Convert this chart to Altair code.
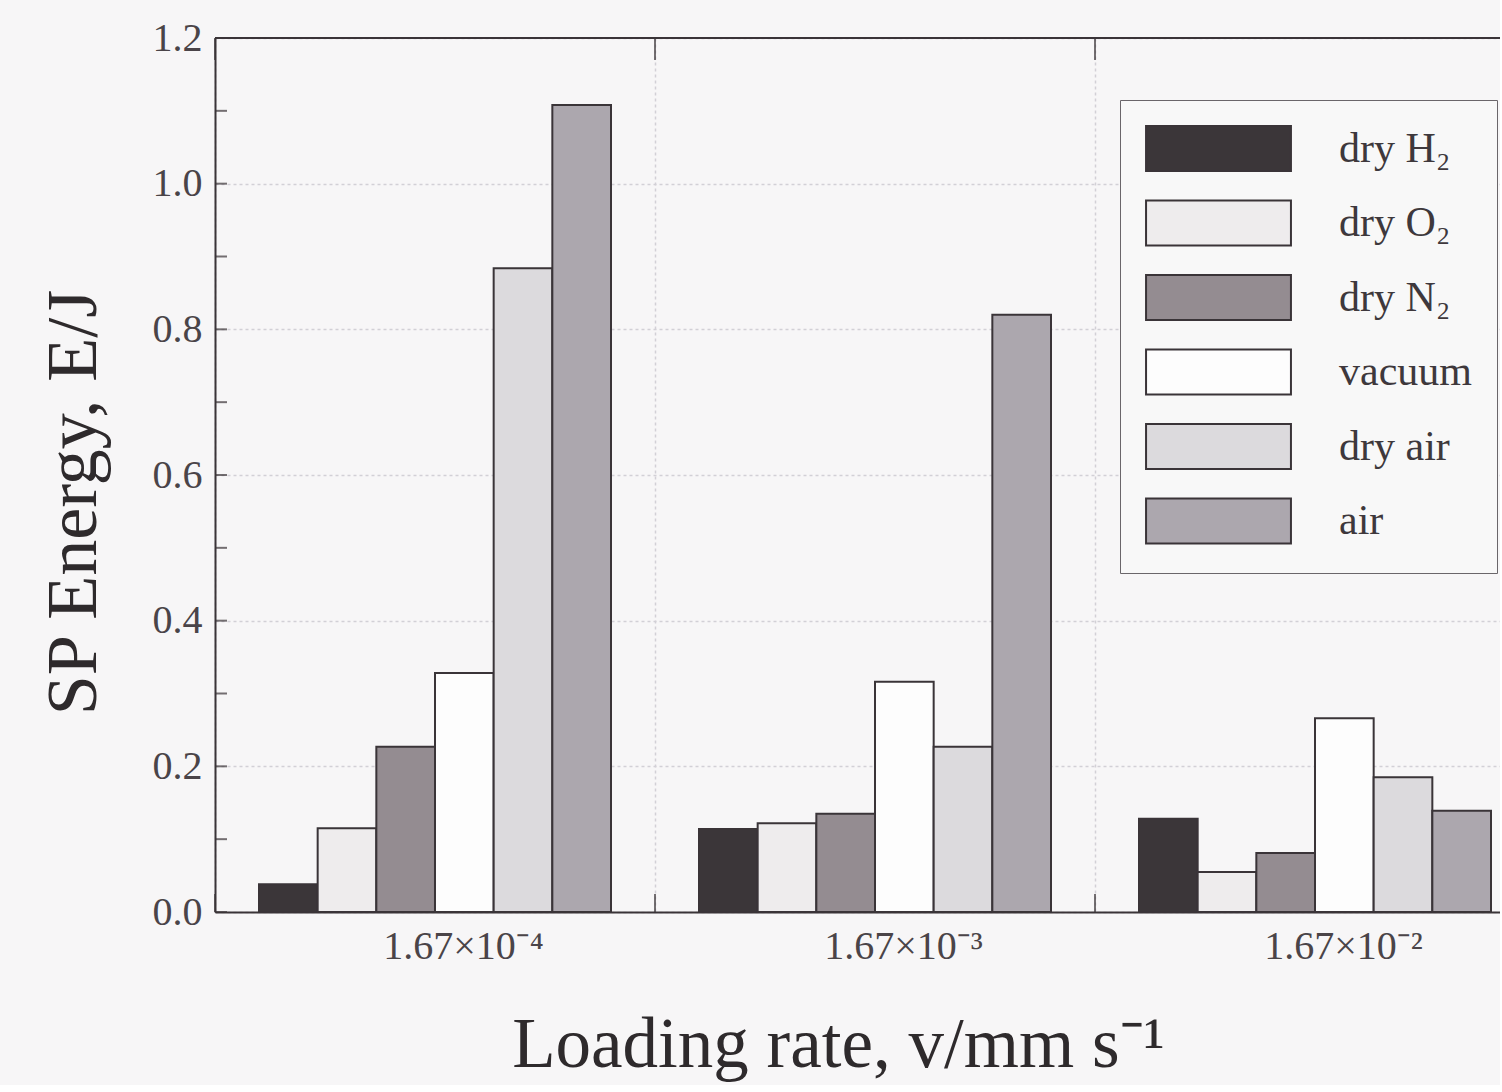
import altair as alt
import pandas as pd

# ---- data ----
rates = ["1.67×10⁻⁴", "1.67×10⁻³", "1.67×10⁻²"]
envs = ["dry H₂", "dry O₂", "dry N₂", "vacuum", "dry air", "air"]
energy_r4 = [0.038, 0.115, 0.227, 0.328, 0.884, 1.108]
energy_r3 = [0.114, 0.122, 0.135, 0.316, 0.227, 0.820]
energy_r2 = [0.128, 0.055, 0.081, 0.266, 0.185, 0.139]
y_label_values = [0.0, 0.2, 0.4, 0.6, 0.8, 1.0, 1.2]
y_tick_values = [0.0, 0.1, 0.2, 0.3, 0.4, 0.5, 0.6, 0.7, 0.8, 0.9, 1.0, 1.1, 1.2]
env_colors = ["#3b3639", "#eeeced", "#948c91", "#fdfdfd", "#dcdadd", "#aca7ae"]

rows = []
for rate, vals in zip(rates, [energy_r4, energy_r3, energy_r2]):
    for env, v in zip(envs, vals):
        rows.append({"rate": rate, "env": env, "energy": v})
df = pd.DataFrame(rows)
ticks_df = pd.DataFrame({"v": y_tick_values})
rates_df = pd.DataFrame({"rate": rates})
one_df = pd.DataFrame({"a": [0]})

FONT = "Liberation Serif"
DARK = "#3a3438"

x_scale = alt.Scale(domain=rates, range=[0, 1320], paddingInner=0, paddingOuter=0)
y_scale = alt.Scale(domain=[0, 1.2], nice=False, zero=True)

bars = alt.Chart(df).mark_bar(stroke=DARK, strokeWidth=2).encode(
    x=alt.X(
        "rate:N", sort=rates, scale=x_scale,
        axis=alt.Axis(
            title="Loading rate, v/mm s⁻¹",
            tickBand="extent", ticks=False, grid=True,
            gridColor="#d2d0d6", gridDash=[3, 3], gridWidth=1.5,
            domainColor=DARK, domainWidth=2,
            labelAngle=0, labelFont=FONT, labelFontSize=40, labelColor="#4a4448",
            labelPadding=14, labelOffset=28,
            titleFont=FONT, titleFontSize=71, titleFontWeight="normal", titleColor="#2e2a2c",
            titleX=623, titleY=133, titleBaseline="middle", titleAlign="center",
        ),
    ),
    xOffset=alt.XOffset("env:N", sort=envs,
                        scale=alt.Scale(paddingInner=0, paddingOuter=0.75)),
    y=alt.Y(
        "energy:Q", scale=y_scale,
        axis=alt.Axis(
            title="SP Energy, E/J",
            values=y_label_values, format=".1f", ticks=False, grid=True,
            gridColor="#d2d0d6", gridDash=[3, 3], gridWidth=1.5,
            domainColor=DARK, domainWidth=2,
            labelFont=FONT, labelFontSize=40, labelColor="#4a4448", labelPadding=13,
            titleFont=FONT, titleFontSize=72, titleFontWeight="normal", titleColor="#2e2a2c",
            titleX=-142, titleY=464, titleAngle=-90, titleBaseline="middle", titleAlign="center",
        ),
    ),
    color=alt.Color(
        "env:N", sort=envs,
        scale=alt.Scale(domain=envs, range=env_colors),
        legend=alt.Legend(
            title=None, orient="none", legendX=905, legendY=62,
            symbolType="M-3.22,-1H3.22V1H-3.22Z", symbolSize=2025,
            symbolStrokeColor=DARK, symbolStrokeWidth=2, symbolOpacity=1,
            symbolOffset=50, labelOffset=97,
            rowPadding=21.5, padding=25,
            strokeColor="#6a666a", fillColor="#f8f8f8",
            labelFont=FONT, labelFontSize=42, labelColor="#3e383c",
            labelLimit=400,
        ),
    ),
)

y_inner_ticks = alt.Chart(ticks_df).mark_tick(
    orient="horizontal", color=DARK, thickness=2, size=12
).encode(y=alt.Y("v:Q", scale=y_scale), x=alt.value(6))

top_ticks = alt.Chart(rates_df).mark_tick(
    orient="vertical", color=DARK, thickness=2, size=22
).encode(x=alt.X("rate:N", sort=rates, scale=x_scale, bandPosition=0), y=alt.value(11))

bottom_ticks = alt.Chart(rates_df).mark_tick(
    orient="vertical", color=DARK, thickness=2, size=18
).encode(x=alt.X("rate:N", sort=rates, scale=x_scale, bandPosition=0), y=alt.value(865))

top_border = alt.Chart(one_df).mark_rule(color=DARK, strokeWidth=2).encode(
    x=alt.value(0), x2=alt.value(1320), y=alt.value(0)
)

chart = alt.layer(bars, y_inner_ticks, top_ticks, bottom_ticks, top_border).properties(
    width=1285, height=874,
    autosize=alt.AutoSizeParams(type="none"),
    padding={"left": 215, "top": 38, "right": 0, "bottom": 173},
    background="#f7f6f7",
).configure_view(strokeWidth=0)

chart.save("out.html", embed_options={"renderer": "svg", "actions": False})
